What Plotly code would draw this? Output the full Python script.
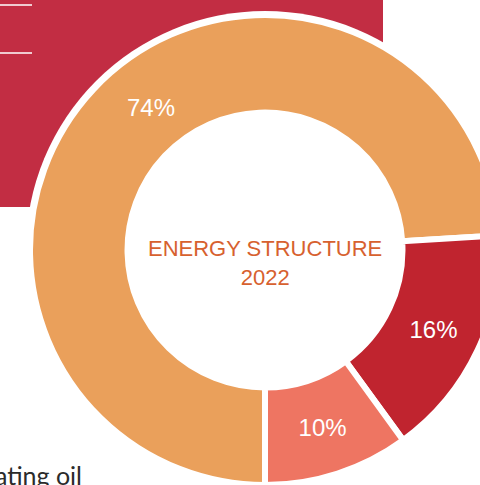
import plotly.graph_objects as go

labels = ["Natural gas", "Electricity", "Heating oil"]
values = [74, 16, 10]
texts = ["", "16%", "10%"]
colors = ["#EAA05B", "#C0242F", "#EE7562"]

W, H = 500, 485
cx, cy, R = 265, 250, 235

def px(x):
    return x / W

def py(y):
    return (H - y) / H

fig = go.Figure()
fig.add_trace(go.Pie(
    labels=labels, values=values, text=texts,
    textinfo="text", textposition="inside", insidetextorientation="horizontal",
    sort=False, direction="clockwise", rotation=180, hole=0.585,
    marker=dict(colors=colors, line=dict(color="white", width=6)),
    textfont=dict(family="Liberation Sans", size=24, color="white"),
    domain=dict(x=[px(cx - R), px(cx + R)], y=[py(cy + R), py(cy - R)]),
    showlegend=False, hoverinfo="label+percent",
))

shapes = [
    dict(type="rect", xref="paper", yref="paper", x0=0, x1=px(383), y0=py(207), y1=1,
         fillcolor="#C22D43", line=dict(width=0), layer="below"),
    dict(type="line", xref="paper", yref="paper", x0=0, x1=px(32), y0=py(5), y1=py(5),
         line=dict(color="white", width=1.5), layer="below"),
    dict(type="line", xref="paper", yref="paper", x0=0, x1=px(32), y0=py(53), y1=py(53),
         line=dict(color="white", width=1.5), layer="below"),
    dict(type="circle", xref="paper", yref="paper", x0=px(cx - R - 4), x1=px(cx + R + 4),
         y0=py(cy + R + 4), y1=py(cy - R - 4), fillcolor="white", line=dict(width=0), layer="below"),
]

annotations = [
    dict(text="74%", xref="paper", yref="paper", x=px(151), y=py(107),
         showarrow=False, font=dict(family="Liberation Sans", size=24, color="white"),
         xanchor="center", yanchor="middle"),
    dict(text="ENERGY STRUCTURE<br>2022", xref="paper", yref="paper", x=px(cx), y=py(263),
         showarrow=False, font=dict(family="Liberation Sans", size=22, color="#D7612F"),
         align="center", xanchor="center", yanchor="middle"),
    dict(text="Heating oil", xref="paper", yref="paper", x=px(84), y=py(475),
         showarrow=False, font=dict(family="Lato", size=25, color="#2B2B2B"),
         xanchor="right", yanchor="middle"),
]

fig.update_layout(
    width=W, height=H, margin=dict(l=0, r=0, t=0, b=0),
    paper_bgcolor="white", plot_bgcolor="white",
    shapes=shapes, annotations=annotations,
)

fig.write_html("out.html", config={"displayModeBar": False},
               post_script="document.documentElement.style.overflow='hidden';document.body.style.overflow='hidden';")
